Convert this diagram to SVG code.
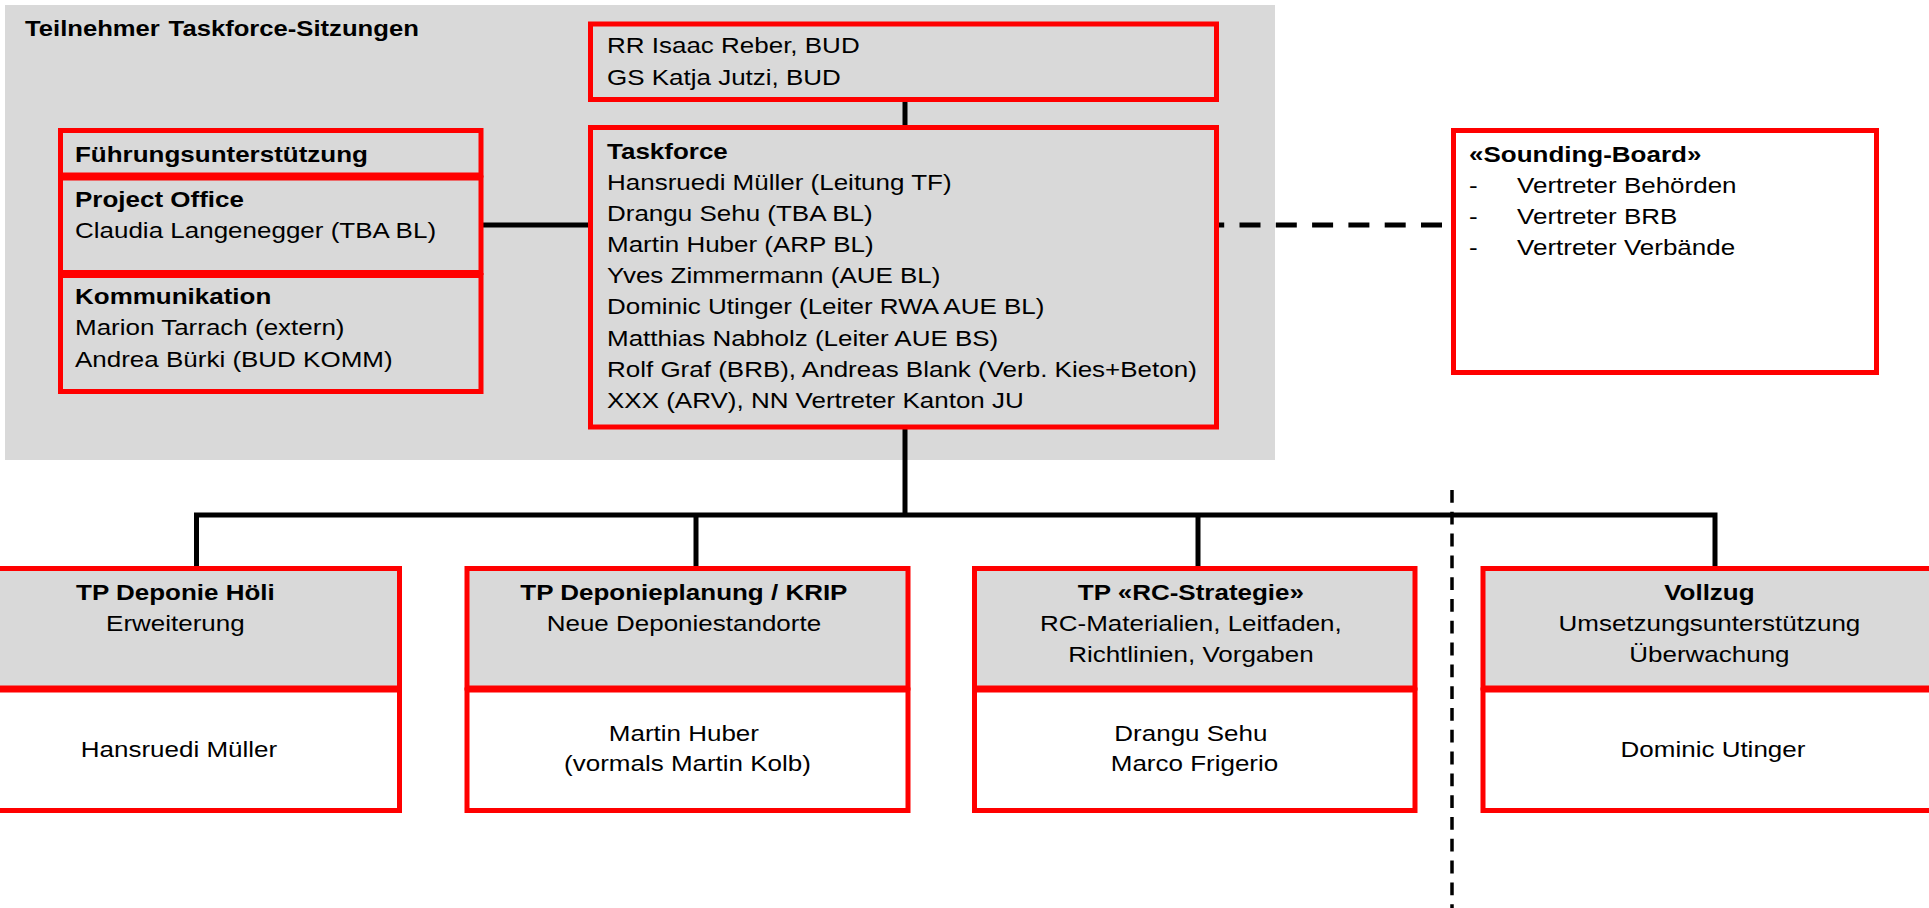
<svg xmlns="http://www.w3.org/2000/svg" width="1929" height="908" viewBox="0 0 1929 908">
  <style>
    .t { font-family: "Liberation Sans", Arial, sans-serif; font-size: 22.5px; fill: #000000; }
    .b { font-weight: bold; }
    .c { text-anchor: middle; }
    .box { stroke: #FF0000; stroke-width: 5; }
    .gray { fill: #D9D9D9; }
    .white { fill: #FFFFFF; }
    .conn { stroke: #000000; stroke-width: 5; fill: none; }
    .dash { stroke: #000000; stroke-width: 5; fill: none; stroke-dasharray: 21 15.3; stroke-dashoffset: 15.8; }
    .sep { stroke: #000000; stroke-width: 3.5; fill: none; stroke-dasharray: 12.8 9; }
  </style>

  <rect x="0" y="0" width="1929" height="908" fill="#FFFFFF"/>

  <!-- participants panel -->
  <g id="panel-teilnehmer">
    <rect x="5" y="5" width="1270" height="455" class="gray"/>
    <text class="t b" transform="translate(25 0) scale(1.14 1)"><tspan x="0" y="36">Teilnehmer</tspan><tspan x="126" y="36">Taskforce-Sitzungen</tspan></text>
  </g>

  <!-- connectors -->
  <g id="connectors">
    <line x1="905" y1="99" x2="905" y2="128" class="conn"/>
    <line x1="481" y1="225" x2="591" y2="225" class="conn"/>
    <line x1="1219" y1="225" x2="1451" y2="225" class="dash"/>
    <polyline points="905,427 905,515" class="conn"/>
    <polyline points="196.5,568 196.5,515 1715,515 1715,568" class="conn"/>
    <line x1="696" y1="515" x2="696" y2="568" class="conn"/>
    <line x1="1198" y1="515" x2="1198" y2="568" class="conn"/>
  </g>

  <!-- divider between project parts and Vollzug -->
  <g id="divider">
    <line x1="1452" y1="490" x2="1452" y2="908" class="sep"/>
  </g>

  <g id="node-reber">
    <rect x="590.5" y="24" width="626" height="75.5" class="gray box"/>
    <text class="t" transform="translate(607 0) scale(1.155 1)">
      <tspan x="0" y="53">RR Isaac Reber, BUD</tspan>
      <tspan x="0" y="85">GS Katja Jutzi, BUD</tspan>
    </text>
  </g>

  <g id="node-taskforce">
    <rect x="590.5" y="127.5" width="626" height="299.5" class="gray box"/>
    <text class="t" transform="translate(607 0) scale(1.155 1)">
      <tspan x="0" y="159" class="b">Taskforce</tspan>
      <tspan x="0" y="190.1">Hansruedi Müller (Leitung TF)</tspan>
      <tspan x="0" y="221.2">Drangu Sehu (TBA BL)</tspan>
      <tspan x="0" y="252.3">Martin Huber (ARP BL)</tspan>
      <tspan x="0" y="283.4">Yves Zimmermann (AUE BL)</tspan>
      <tspan x="0" y="314.5">Dominic Utinger (Leiter RWA AUE BL)</tspan>
      <tspan x="0" y="345.6">Matthias Nabholz (Leiter AUE BS)</tspan>
      <tspan x="0" y="376.7">Rolf Graf (BRB), Andreas Blank (Verb. Kies+Beton)</tspan>
      <tspan x="0" y="407.8">XXX (ARV), NN Vertreter Kanton JU</tspan>
    </text>
  </g>

  <g id="node-fuehrung">
    <rect x="60.5" y="130.5" width="420.5" height="44.5" class="gray box"/>
    <rect x="60.5" y="178" width="420.5" height="94.5" class="gray box"/>
    <rect x="60.5" y="275.5" width="420.5" height="116" class="gray box"/>
    <text class="t" transform="translate(75 0) scale(1.155 1)">
      <tspan x="0" y="162" class="b">Führungsunterstützung</tspan>
      <tspan x="0" y="207" class="b">Project Office</tspan>
      <tspan x="0" y="238">Claudia Langenegger (TBA BL)</tspan>
      <tspan x="0" y="304" class="b">Kommunikation</tspan>
      <tspan x="0" y="335">Marion Tarrach (extern)</tspan>
      <tspan x="0" y="367">Andrea Bürki (BUD KOMM)</tspan>
    </text>
  </g>

  <g id="node-sounding">
    <rect x="1453.5" y="130.5" width="423" height="242" class="white box"/>
    <text class="t" transform="translate(1469 0) scale(1.155 1)">
      <tspan x="0" y="162" class="b">«Sounding-Board»</tspan>
      <tspan x="0" y="193">-</tspan><tspan x="41.6" y="193">Vertreter Behörden</tspan>
      <tspan x="0" y="224">-</tspan><tspan x="41.6" y="224">Vertreter BRB</tspan>
      <tspan x="0" y="255">-</tspan><tspan x="41.6" y="255">Vertreter Verbände</tspan>
    </text>
  </g>

  <g id="node-tp-hoeli">
    <rect x="-41.5" y="568.5" width="441" height="119.5" class="gray box"/>
    <rect x="-41.5" y="690" width="441" height="120.5" class="white box"/>
    <text class="t c" transform="translate(179 0) scale(1.155 1)">
      <tspan x="0" y="600.5" class="b">TP Deponie Höli</tspan>
      <tspan x="0" y="631.5">Erweiterung</tspan>
      <tspan x="0" y="757.5">Hansruedi Müller</tspan>
    </text>
  </g>

  <g id="node-tp-krip">
    <rect x="467" y="568.5" width="441" height="119.5" class="gray box"/>
    <rect x="467" y="690" width="441" height="120.5" class="white box"/>
    <text class="t c" transform="translate(687.5 0) scale(1.155 1)">
      <tspan x="0" y="600.5" class="b">TP Deponieplanung / KRIP</tspan>
      <tspan x="0" y="631.5">Neue Deponiestandorte</tspan>
      <tspan x="0" y="741.5">Martin Huber</tspan>
      <tspan x="0" y="771.5">(vormals Martin Kolb)</tspan>
    </text>
  </g>

  <g id="node-tp-rc">
    <rect x="974.5" y="568.5" width="440.5" height="119.5" class="gray box"/>
    <rect x="974.5" y="690" width="440.5" height="120.5" class="white box"/>
    <text class="t c" transform="translate(1194.5 0) scale(1.155 1)">
      <tspan x="0" y="600.5" class="b">TP «RC-Strategie»</tspan>
      <tspan x="0" y="631.5">RC-Materialien, Leitfaden,</tspan>
      <tspan x="0" y="662">Richtlinien, Vorgaben</tspan>
      <tspan x="0" y="741.5">Drangu Sehu</tspan>
      <tspan x="0" y="771.5">Marco Frigerio</tspan>
    </text>
  </g>

  <g id="node-vollzug">
    <rect x="1483" y="568.5" width="460" height="119.5" class="gray box"/>
    <rect x="1483" y="690" width="460" height="120.5" class="white box"/>
    <text class="t c" transform="translate(1713 0) scale(1.155 1)">
      <tspan x="0" y="600.5" class="b">Vollzug</tspan>
      <tspan x="0" y="631.5">Umsetzungsunterstützung</tspan>
      <tspan x="0" y="662">Überwachung</tspan>
      <tspan x="0" y="757.5">Dominic Utinger</tspan>
    </text>
  </g>
</svg>
